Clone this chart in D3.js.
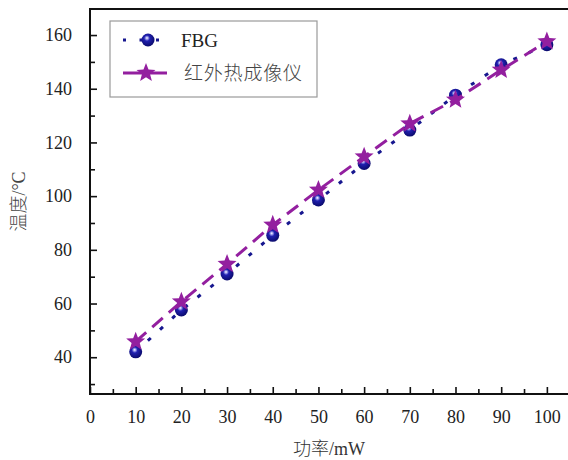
<!DOCTYPE html>
<html>
<head>
<meta charset="utf-8">
<script src="https://cdn.jsdelivr.net/npm/d3@7/dist/d3.min.js"></script>
<style>
  html, body { margin: 0; padding: 0; background: #fff; }
  svg { display: block; }
  .tick text { font-family: "Liberation Serif", "Times New Roman", serif; font-size: 18px; fill: #222; }
  .cjk { font-family: "Liberation Serif", "Noto Sans CJK SC", serif; font-weight: 300; }
</style>
</head>
<body>
<svg id="chart" width="568" height="460"></svg>
<script>
// Power settings (mW)
const power = [10, 20, 30, 40, 50, 60, 70, 80, 90, 100];
// Temperature measured by the FBG sensor (°C)
const fbgTemp = [42.0, 57.6, 71.0, 85.4, 98.6, 112.2, 124.6, 137.6, 148.9, 156.4];
// Temperature measured by the infrared thermal imager (°C)
const irTemp = [45.8, 60.7, 74.7, 89.3, 102.3, 114.7, 127.0, 135.9, 147.0, 157.6];

const xTicks = [0, 10, 20, 30, 40, 50, 60, 70, 80, 90, 100];
const xMinorTicks = [5, 15, 25, 35, 45, 55, 65, 75, 85, 95];
const yTicks = [40, 60, 80, 100, 120, 140, 160];
const yMinorTicks = [30, 50, 70, 90, 110, 130, 150];

const seriesNames = ["FBG", "红外热成像仪"];
const xTitle = "功率/mW";
const yTitle = "温度/°C";

const svg = d3.select("#chart");
const padL = 90, padT = 9, baseY = 394;
const padR = 572;

const x = d3.scaleLinear().domain([0, 105.5]).range([padL, padR]);
const y = d3.scaleLinear().domain([26.3, 169.7]).range([baseY, padT]);

// ball marker gradient
const defs = svg.append("defs");
const grad = defs.append("radialGradient").attr("id", "ball")
  .attr("cx", "42%").attr("cy", "40%").attr("r", "62%")
  .attr("fx", "42%").attr("fy", "34%");
grad.append("stop").attr("offset", "0%").attr("stop-color", "#ffffff");
grad.append("stop").attr("offset", "14%").attr("stop-color", "#a8a8ee");
grad.append("stop").attr("offset", "36%").attr("stop-color", "#2020b0");
grad.append("stop").attr("offset", "100%").attr("stop-color", "#0a0a6a");

const blue = "#17178f";
const purple = "#931f9f";

// frame
svg.append("path")
  .attr("d", `M${padL},${baseY}V${padT}H${padR}V${baseY}Z`)
  .attr("fill", "none").attr("stroke", "#111").attr("stroke-width", 2);

// axes with inward ticks
function styleAxis(g) {
  g.select(".domain").remove();
  g.selectAll(".tick line").attr("stroke", "#111").attr("stroke-width", 1.6);
}
svg.append("g").attr("transform", `translate(${padL},0)`)
  .call(d3.axisLeft(y).tickValues(yTicks).tickSizeInner(-7).tickSizeOuter(0).tickPadding(18).tickFormat(d3.format("d")))
  .call(styleAxis);
svg.append("g").attr("transform", `translate(${padL},0)`)
  .call(d3.axisLeft(y).tickValues(yMinorTicks).tickSizeInner(-5).tickSizeOuter(0).tickFormat(""))
  .call(styleAxis);
svg.append("g").attr("transform", `translate(0,${baseY})`)
  .call(d3.axisBottom(x).tickValues(xTicks).tickSizeInner(-7).tickSizeOuter(0).tickPadding(16).tickFormat(d3.format("d")))
  .call(styleAxis);
svg.append("g").attr("transform", `translate(0,${baseY})`)
  .call(d3.axisBottom(x).tickValues(xMinorTicks).tickSizeInner(-5).tickSizeOuter(0).tickFormat(""))
  .call(styleAxis);

// axis titles
svg.append("text").attr("class", "cjk")
  .attr("x", (padL + 568) / 2).attr("y", 449).attr("dy", "0.35em")
  .attr("text-anchor", "middle")
  .style("font-size", "18px").style("fill", "#333").text(xTitle);
svg.append("text").attr("class", "cjk")
  .attr("transform", `translate(19,${(padT + baseY) / 2}) rotate(-90)`)
  .attr("dy", "0.35em").attr("text-anchor", "middle")
  .style("font-size", "18px").style("fill", "#444").text(yTitle);

// five-point star path
function starPath(R, r) {
  const pts = [];
  for (let i = 0; i < 10; i++) {
    const a = -Math.PI / 2 + i * Math.PI / 5;
    const rad = i % 2 === 0 ? R : r;
    pts.push([rad * Math.cos(a), rad * Math.sin(a)]);
  }
  return "M" + pts.map(p => p.join(",")).join("L") + "Z";
}
const star = starPath(10, 4.3);

const fbgData = power.map((p, i) => [p, fbgTemp[i]]);
const irData = power.map((p, i) => [p, irTemp[i]]);
const line = d3.line().x(d => x(d[0])).y(d => y(d[1]));

// FBG series: dotted line with ball markers
svg.append("path").datum(fbgData).attr("d", line)
  .attr("fill", "none").attr("stroke", blue).attr("stroke-width", 3)
  .attr("stroke-dasharray", "4,12.5");
svg.selectAll(".ball").data(fbgData).enter().append("circle")
  .attr("class", "ball").attr("cx", d => x(d[0])).attr("cy", d => y(d[1]))
  .attr("r", 6.5).attr("fill", "url(#ball)");

// Infrared imager series: dashed line with star markers
svg.append("path").datum(irData).attr("d", line)
  .attr("fill", "none").attr("stroke", purple).attr("stroke-width", 3)
  .attr("stroke-dasharray", "14,8");
svg.selectAll(".star").data(irData).enter().append("path")
  .attr("class", "star").attr("d", star)
  .attr("transform", d => `translate(${x(d[0])},${y(d[1])})`)
  .attr("fill", purple);

// legend
const lg = svg.append("g");
lg.append("rect").attr("x", 110).attr("y", 21).attr("width", 207).attr("height", 76)
  .attr("fill", "#fff").attr("stroke", "#9a9a9a").attr("stroke-width", 1.2);
lg.append("line").attr("x1", 123).attr("x2", 170).attr("y1", 40).attr("y2", 40)
  .attr("stroke", blue).attr("stroke-width", 3).attr("stroke-dasharray", "3,13.5");
lg.append("circle").attr("cx", 148).attr("cy", 40).attr("r", 6.5).attr("fill", "url(#ball)");
lg.append("line").attr("x1", 123).attr("x2", 167).attr("y1", 73).attr("y2", 73)
  .attr("stroke", purple).attr("stroke-width", 3);
lg.append("path").attr("d", star).attr("transform", "translate(146,73)").attr("fill", purple);
lg.append("text").attr("x", 181).attr("y", 40).attr("dy", "0.35em")
  .style("font-family", "'Liberation Serif', serif").style("font-size", "19px").style("fill", "#222")
  .text(seriesNames[0]);
lg.append("text").attr("class", "cjk").attr("x", 184).attr("y", 73).attr("dy", "0.35em")
  .style("font-size", "19px").style("fill", "#444")
  .attr("textLength", 118)
  .text(seriesNames[1]);
</script>
</body>
</html>
